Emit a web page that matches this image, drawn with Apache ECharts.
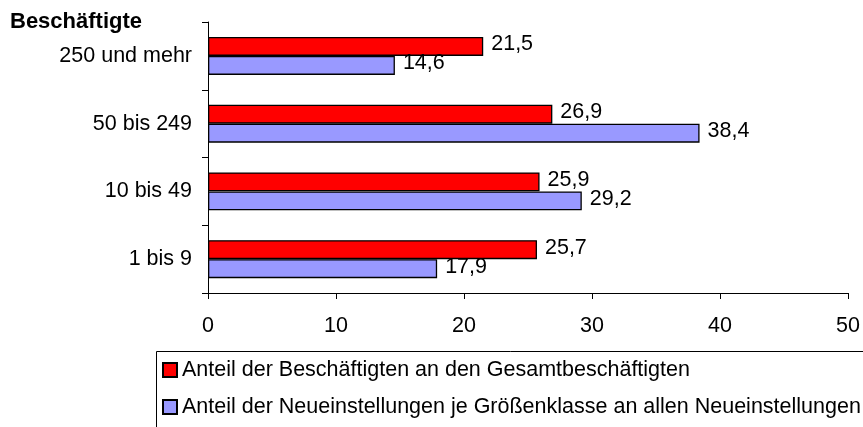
<!DOCTYPE html>
<html>
<head>
<meta charset="utf-8">
<script src="https://cdn.jsdelivr.net/npm/echarts@6/dist/echarts.min.js"></script>
<style>
html,body{margin:0;padding:0;background:#fff;}
#c{width:863px;height:427px;}
</style>
</head>
<body>
<div id="c"></div>
<script>
const categories = ['250 und mehr', '50 bis 249', '10 bis 49', '1 bis 9'];
const seriesNames = [
  'Anteil der Beschäftigten an den Gesamtbeschäftigten',
  'Anteil der Neueinstellungen je Größenklasse an allen Neueinstellungen'
];
const employees = [21.5, 26.9, 25.9, 25.7];
const hires = [14.6, 38.4, 29.2, 17.9];
const xTicks = [0, 10, 20, 30, 40, 50];

const FONT = 'Liberation Sans, Arial, sans-serif';
const FS = 21.5;
const fmt = p => String(p.value).replace('.', ',');

const legendCommon = {
  orient: 'vertical',
  left: 162,
  padding: 0,
  itemWidth: 14, itemHeight: 14,
  icon: 'rect',
  textStyle: { fontFamily: FONT, fontSize: FS, color: '#000', lineHeight: 24 }
};

const chart = echarts.init(document.getElementById('c'));
chart.setOption({
  animation: false,
  backgroundColor: '#fff',
  textStyle: { fontFamily: FONT, color: '#000' },
  title: {
    text: 'Beschäftigte',
    left: 10, top: 11, padding: 0,
    textStyle: { fontFamily: FONT, fontSize: 22, fontWeight: 'bold', color: '#000' }
  },
  grid: { left: 208, right: 13, top: 22, bottom: 134 },
  xAxis: {
    type: 'value',
    min: xTicks[0], max: xTicks[xTicks.length - 1], interval: 10,
    axisLine: { show: true, lineStyle: { color: '#000', width: 1 } },
    axisTick: { show: true, length: 6, lineStyle: { color: '#000' } },
    splitLine: { show: false },
    axisLabel: { fontFamily: FONT, fontSize: FS, color: '#000', margin: 22 }
  },
  yAxis: {
    type: 'category',
    inverse: true,
    data: categories,
    axisLine: { show: true, lineStyle: { color: '#000', width: 1 } },
    axisTick: { show: true, length: 6, lineStyle: { color: '#000' } },
    axisLabel: { fontFamily: FONT, fontSize: FS, color: '#000', margin: 16 }
  },
  legend: [
    Object.assign({}, legendCommon, { top: 358, data: [seriesNames[0]] }),
    Object.assign({}, legendCommon, { top: 395, data: [seriesNames[1]] })
  ],
  graphic: [{
    type: 'rect',
    left: 154, top: 349,
    shape: { width: 740, height: 120 },
    style: { fill: 'none', stroke: '#000', lineWidth: 1 },
    silent: true
  }],
  series: [
    {
      name: seriesNames[0], type: 'bar', data: employees,
      barWidth: 19, barGap: '0%', barCategoryGap: '44%',
      itemStyle: { color: '#FF0000', borderColor: '#000', borderWidth: 1.3 },
      label: { show: true, position: 'right', distance: 8, formatter: fmt,
               fontFamily: FONT, fontSize: FS, color: '#000', offset: [0, -2] }
    },
    {
      name: seriesNames[1], type: 'bar', data: hires,
      barWidth: 19, barGap: '0%', barCategoryGap: '44%',
      itemStyle: { color: '#9999FF', borderColor: '#000', borderWidth: 1.3 },
      label: { show: true, position: 'right', distance: 8, formatter: fmt,
               fontFamily: FONT, fontSize: FS, color: '#000', offset: [0, -2] }
    }
  ]
});
</script>
</body>
</html>
